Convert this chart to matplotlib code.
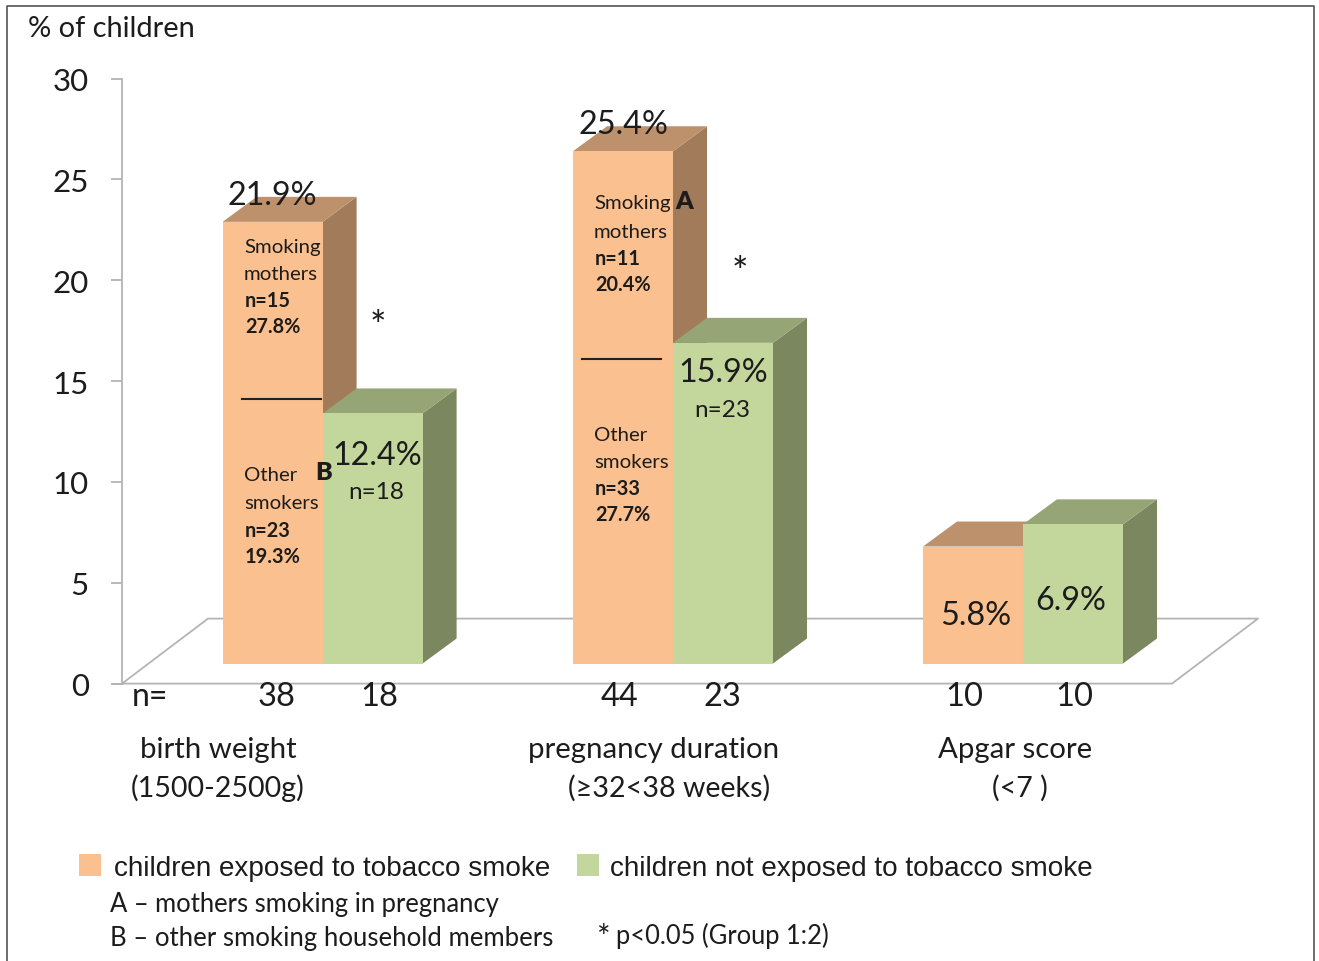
import matplotlib
matplotlib.use('Agg')
import matplotlib.pyplot as plt
from matplotlib.patches import Rectangle

W, H = 1319, 962

# values, % of children
exposed = [21.9, 25.4, 5.8]
not_exposed = [12.4, 15.9, 6.9]
n_exposed = [38, 44, 10]
n_not_exposed = [18, 23, 10]
group_names = ['birth weight', 'pregnancy duration', 'Apgar score']
group_ranges = ['(1500-2500g)', '(≥32<38 weeks)', '(<7 )']
split_values = [13.1, 15.1]
yticks = [0, 5, 10, 15, 20, 25, 30]

# layout in pixels
bar_left = [222.6, 573, 923]
split_left = [241.5, 581.5]
bar_w = 100
depth_x = 34
depth_px = 25
base_px = 664.5
top_px = 79.6
zero_px = 684.6
unit = (zero_px - top_px) / 30
base = (zero_px - base_px) / unit
depth_y = depth_px / unit

ORANGE = ('#fbc08f', '#bd916c', '#a27b5b')
GREEN = ('#c3d69b', '#96a576', '#7b875f')
GREY = '#b4b4b4'
TEXT = '#1c1c1c'
FONT = 'Lato'

fig = plt.figure(figsize=(W / 100, H / 100), dpi=100)

ax = fig.add_axes([122 / W, 1 - zero_px / H, 1 - 122 / W, (zero_px - top_px) / H])
ax.set_xlim(122, W)
ax.set_ylim(0, 30)
ax.patch.set_alpha(0)
for s in ['top', 'right', 'bottom']:
    ax.spines[s].set_visible(False)
ax.spines['left'].set_color(GREY)
ax.spines['left'].set_linewidth(1.3)
ax.set_xticks([])
ax.set_yticks(yticks)
ax.tick_params(axis='y', length=8, width=1.3, color=GREY, pad=16, labelsize=22.5, labelcolor=TEXT)
for t in ax.get_yticklabels():
    t.set_family(FONT)

# floor of the 3D box
back = (zero_px - 619.6) / unit
ax.plot([122, 208, 1258, 1172, 122], [0, back, back, 0, 0], color=GREY, lw=1.3, clip_on=False, zorder=1)
ax.plot([112, 122], [0, 0], color=GREY, lw=1.3, clip_on=False, zorder=1)


def bar3d(x, v, colors, z):
    front, top, side = colors
    y0, y1 = base, base + v
    ax.fill([x + bar_w, x + bar_w + depth_x, x + bar_w + depth_x, x + bar_w],
            [y0, y0 + depth_y, y1 + depth_y, y1], color=side, lw=0, zorder=z)
    ax.fill([x, x + depth_x, x + bar_w + depth_x, x + bar_w],
            [y1, y1 + depth_y, y1 + depth_y, y1], color=top, lw=0, zorder=z)
    ax.bar(x, v, bottom=base, width=bar_w, align='edge', color=front, lw=0, zorder=z + 0.1)


for i in range(3):
    bar3d(bar_left[i], exposed[i], ORANGE, 2 + i)
    bar3d(bar_left[i] + bar_w, not_exposed[i], GREEN, 2.5 + i)

for i, v in enumerate(split_values):
    ax.plot([split_left[i], split_left[i] + 79], [base + v, base + v], color='#222222', lw=1.5, zorder=8)

# overlay in pixel coordinates for all annotations
ov = fig.add_axes([0, 0, 1, 1])
ov.set_xlim(0, W)
ov.set_ylim(H, 0)
ov.axis('off')
ov.patch.set_alpha(0)


def txt(x, y, s, size, ha='center', bold=False, family=FONT, color=TEXT, weight=None):
    ov.text(x, y + 1, s, fontsize=size, ha=ha, va='center', family=family, color=color,
            fontweight=weight or ('bold' if bold else 'normal'), zorder=10)


# frame
ov.plot([6.5, 6.5, 1314, 1314], [H, 6.5, 6.5, H], color='#555555', lw=1.2, clip_on=False)

txt(28, 28, '% of children', 20.9, ha='left')

# value labels on bars
txt(272, 195, '21.9%', 23.3)
txt(623, 124, '25.4%', 23.3)
txt(377, 455, '12.4%', 23.3)
txt(723, 372, '15.9%', 23.3)
txt(976, 615, '5.8%', 23.3)
txt(1071, 600, '6.9%', 23.3)
txt(376, 492, 'n=18', 17.5)
txt(722, 410, 'n=23', 17.5)

# labels inside the orange bars
inner = [
    (244, 247, 'Smoking', False), (244, 274, 'mothers', False), (245, 300, 'n=15', True), (245, 326, '27.8%', True),
    (244, 475, 'Other', False), (244, 503, 'smokers', False), (245, 530, 'n=23', True), (245, 556, '19.3%', True),
    (594, 203, 'Smoking', False), (594, 231, 'mothers', False), (595, 258, 'n=11', True), (595, 284, '20.4%', True),
    (594, 435, 'Other', False), (594, 462, 'smokers', False), (595, 488, 'n=33', True), (595, 514, '27.7%', True),
]
for x, y, s, b in inner:
    txt(x, y, s, 14.3 if b else 14.7, ha='left', bold=b)
txt(684, 201, 'A', 18, weight='heavy')
txt(324, 472, 'B', 18, weight='heavy')
txt(378, 327, '*', 28)
txt(740, 273, '*', 28)

# n row and group names
txt(150, 696, 'n=', 23)
n_x = [(277, 379), (620, 722), (964, 1074)]
for (xa, xb), na, nb in zip(n_x, n_exposed, n_not_exposed):
    txt(xa, 696, str(na), 23.5)
    txt(xb, 696, str(nb), 23.5)
name_x = [218, 654, 1015]
range_x = [218, 669, 1020]
for i in range(3):
    txt(name_x[i], 749, group_names[i], 21.2)
    txt(range_x[i], 787, group_ranges[i], 20.6)

# legend
ov.add_patch(Rectangle((79, 855), 22, 22, color=ORANGE[0], lw=0))
ov.add_patch(Rectangle((577, 855), 22, 22, color=GREEN[0], lw=0))
txt(114, 868, 'children exposed to tobacco smoke', 20.05, ha='left', family='Liberation Sans')
txt(610, 868, 'children not exposed to tobacco smoke', 20.05, ha='left', family='Liberation Sans')
txt(110, 904, 'A – mothers smoking in pregnancy', 18.45, ha='left')
txt(110, 938, 'B – other smoking household members', 18.5, ha='left')
txt(597, 938, '*', 23, ha='left')
txt(616, 935, 'p<0.05 (Group 1:2)', 18.4, ha='left')

fig.savefig('out.png', dpi=100)
